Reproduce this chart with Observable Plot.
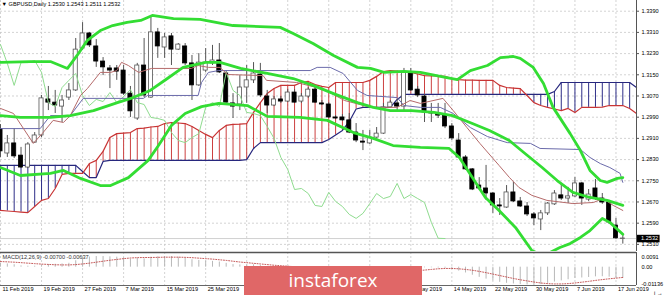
<!DOCTYPE html>
<html><head><meta charset="utf-8">
<script src="https://cdn.jsdelivr.net/npm/d3@7"></script>
<script src="https://cdn.jsdelivr.net/npm/@observablehq/plot@0.6"></script>
<style>
html,body{margin:0;padding:0;background:#fff;}
#chart{position:relative;width:665px;height:297px;overflow:hidden;background:#fff;}
#main{position:absolute;left:0;top:0;}
#macd{position:absolute;left:0;top:251px;}
#logo{position:absolute;left:244px;top:266px;width:178px;height:29px;background:#e06767;color:#fff;font-family:"Open Sans",sans-serif;font-size:19px;line-height:28px;text-align:center;}
</style></head><body>
<div id="chart"><div id="main"></div><div id="macd"></div><div id="logo">instaforex</div></div>
<script>
// ---------- DATA ----------
const symbol = "GBPUSD,Daily";
const dateLabels = ["11 Feb 2019","19 Feb 2019","27 Feb 2019","7 Mar 2019","15 Mar 2019","25 Mar 2019","2 Apr 2019","10 Apr 2019","18 Apr 2019","26 Apr 2019","6 May 2019","14 May 2019","22 May 2019","30 May 2019","7 Jun 2019","17 Jun 2019"];
const labelIdx = [0,6,12,18,24,30,36,42,48,54,60,66,72,78,84,90];
const labelsUnderLogo = [36,42,48,54];
const priceTicks = [1.2510,1.2590,1.2670,1.2750,1.2830,1.2910,1.2990,1.3070,1.3150,1.3230,1.3310,1.3390];
const macdTicks = [0.0091, 0, -0.01136];
const macdTickText = ["0.0091","0.00","-0.01136"];

const open = [1.2944,1.2853,1.2891,1.2845,1.2800,1.2894,1.2921,1.3057,1.3045,1.3030,
1.3064,1.3091,1.3249,1.3306,1.3257,1.3200,1.3174,1.3174,1.3166,1.3079,
1.2985,1.3185,1.3064,1.3310,1.3253,1.3295,1.3245,1.3257,1.3193,1.3110,
1.3166,1.3193,1.3204,1.3155,1.3042,1.3038,1.3102,1.3129,1.3151,1.3068,
1.3034,1.3057,1.3049,1.3083,1.3049,1.3068,1.3094,1.3042,1.3038,1.2989,
1.2989,1.2978,1.2932,1.2898,1.2891,1.2913,1.2928,1.3027,1.3042,1.3030,
1.3159,1.3094,1.3068,1.3008,1.3004,1.2996,1.2955,1.2902,1.2838,1.2793,
1.2732,1.2721,1.2702,1.2657,1.2649,1.2706,1.2672,1.2653,1.2623,1.2604,
1.2627,1.2661,1.2695,1.2683,1.2691,1.2740,1.2679,1.2721,1.2683,1.2668,
1.2581,1.2530];
const high = [1.2962,1.2921,1.2947,1.2876,1.2894,1.2932,1.3072,1.3106,1.3091,1.3072,
1.3117,1.3287,1.3347,1.3310,1.3283,1.3215,1.3185,1.3185,1.3185,1.3106,
1.3193,1.3287,1.3374,1.3325,1.3306,1.3306,1.3268,1.3268,1.3223,1.3230,
1.3249,1.3261,1.3268,1.3166,1.3079,1.3147,1.3185,1.3196,1.3193,1.3091,
1.3068,1.3068,1.3094,1.3094,1.3079,1.3102,1.3102,1.3053,1.3045,1.2996,
1.3000,1.3004,1.2966,1.2940,1.2940,1.2951,1.3042,1.3053,1.3057,1.3174,
1.3174,1.3106,1.3076,1.3042,1.3042,1.3042,1.2966,1.2928,1.2845,1.2796,
1.2762,1.2808,1.2706,1.2683,1.2732,1.2744,1.2687,1.2668,1.2630,1.2638,
1.2668,1.2713,1.2740,1.2725,1.2762,1.2744,1.2717,1.2755,1.2702,1.2676,
1.2608,1.2543];
const low = [1.2838,1.2838,1.2834,1.2796,1.2796,1.2891,1.2913,1.3015,1.3004,1.2970,
1.3053,1.3087,1.3242,1.3253,1.3178,1.3147,1.3098,1.3129,1.3072,1.2989,
1.2978,1.3064,1.3061,1.3212,1.3212,1.3185,1.3242,1.3185,1.3053,1.3106,
1.3159,1.3185,1.3155,1.3042,1.2985,1.3015,1.3042,1.3117,1.3064,1.3004,
1.3030,1.3042,1.3045,1.3042,1.3042,1.3061,1.3042,1.3034,1.2985,1.2981,
1.2974,1.2928,1.2894,1.2864,1.2887,1.2910,1.2925,1.3023,1.3008,1.3015,
1.3087,1.3064,1.2970,1.2970,1.2985,1.2947,1.2902,1.2834,1.2789,1.2713,
1.2713,1.2676,1.2627,1.2619,1.2646,1.2668,1.2649,1.2615,1.2581,1.2562,
1.2619,1.2657,1.2676,1.2664,1.2687,1.2657,1.2672,1.2676,1.2661,1.2585,
1.2528,1.2511];
const close = [1.2861,1.2891,1.2842,1.2800,1.2887,1.2921,1.3061,1.3045,1.3034,1.3053,
1.3091,1.3245,1.3306,1.3261,1.3200,1.3178,1.3166,1.3162,1.3079,1.3012,
1.3185,1.3072,1.3310,1.3257,1.3291,1.3245,1.3264,1.3193,1.3110,1.3196,
1.3196,1.3204,1.3159,1.3045,1.3030,1.3102,1.3129,1.3155,1.3072,1.3034,
1.3057,1.3049,1.3083,1.3045,1.3068,1.3094,1.3045,1.3038,1.2989,1.2985,
1.2978,1.2932,1.2902,1.2894,1.2913,1.2928,1.3027,1.3045,1.3030,1.3159,
1.3091,1.3072,1.3008,1.3004,1.2996,1.2955,1.2910,1.2838,1.2793,1.2717,
1.2721,1.2702,1.2657,1.2653,1.2706,1.2672,1.2653,1.2623,1.2608,1.2627,
1.2664,1.2702,1.2683,1.2691,1.2740,1.2683,1.2698,1.2683,1.2668,1.2593,
1.2533,1.2532];

// Bollinger bands (bar index, price)
const bbUpper = [[0,1.3197],[4.4,1.3200],[7.3,1.3200],[9.8,1.3174],[11.2,1.3223],[12.7,1.3280],[14.6,1.3317],[16.4,1.3336],[18.5,1.3348],[20.5,1.3355],[22.2,1.3374],[25.3,1.3362],[29.2,1.3359],[31.7,1.3347],[34.0,1.3336],[38.0,1.3332],[40.9,1.3329],[42.8,1.3306],[45.7,1.3268],[48.7,1.3223],[52.2,1.3178],[54.1,1.3174],[56.1,1.3159],[59.0,1.3163],[61.4,1.3159],[64.3,1.3144],[66.8,1.3132],[68.7,1.3166],[71.2,1.3185],[73.1,1.3215],[75.0,1.3219],[76.0,1.3212],[77.9,1.3178],[79.4,1.3117],[80.8,1.3027],[83.3,1.2928],[84.8,1.2864],[86.2,1.2789],[87.7,1.2751],[88.7,1.2744],[90.2,1.2759],[91.0,1.2762]];
const bbMiddle = [[0,1.2996],[2.9,1.2989],[7.3,1.2989],[10.2,1.2996],[13.6,1.3015],[17.1,1.3045],[19.4,1.3064],[21.9,1.3091],[24.4,1.3136],[26.7,1.3178],[30.0,1.3197],[32.1,1.3197],[35.1,1.3174],[39.0,1.3155],[42.8,1.3136],[45.7,1.3110],[48.7,1.3079],[52.2,1.3045],[54.5,1.3027],[57.0,1.3015],[60.1,1.3015],[63.4,1.3008],[66.1,1.2996],[69.0,1.2966],[71.5,1.2940],[74.4,1.2902],[76.7,1.2853],[79.2,1.2800],[81.4,1.2751],[83.7,1.2706],[86.2,1.2687],[88.7,1.2676],[91.0,1.2657]];
const bbLower = [[0,1.2800],[2.9,1.2770],[7.3,1.2778],[9.2,1.2789],[11.7,1.2759],[14.6,1.2732],[16.1,1.2732],[18.7,1.2762],[21.6,1.2827],[23.1,1.2883],[25.0,1.2959],[27.0,1.3004],[29.4,1.3030],[31.9,1.3042],[36.1,1.3034],[39.0,1.2993],[43.8,1.2989],[47.8,1.2978],[51.6,1.2932],[54.5,1.2910],[57.4,1.2883],[61.4,1.2876],[65.6,1.2872],[67.1,1.2838],[69.0,1.2762],[70.9,1.2687],[72.9,1.2638],[75.3,1.2574],[77.7,1.2487],[78.9,1.2472],[80.4,1.2480],[81.8,1.2498],[83.3,1.2513],[84.8,1.2536],[86.2,1.2562],[88.0,1.2608],[89.1,1.2593],[91.0,1.2548]];

// Ichimoku
const tenkan = [[0,1.3023],[1.9,1.3004],[4.8,1.2891],[6.1,1.2928],[7.7,1.2978],[9.2,1.2970],[10.2,1.2996],[11.7,1.3072],[12.7,1.3098],[14.6,1.3159],[16.1,1.3159],[17.0,1.3166],[17.7,1.3197],[18.7,1.3185],[20.2,1.3159],[22.1,1.3174],[27.9,1.3174],[28.9,1.3185],[30.4,1.3178],[32.1,1.3178],[33.2,1.3151],[38.4,1.3147],[38.9,1.3129],[43.3,1.3121],[46.2,1.3102],[47.6,1.3091],[50.3,1.3053],[54.2,1.3027],[58.0,1.3027],[59.9,1.3053],[61.4,1.3042],[64.7,1.3061],[66.2,1.3015],[68.2,1.2951],[70.1,1.2891],[72.9,1.2808],[74.4,1.2763],[75.8,1.2725],[77.7,1.2695],[79.9,1.2676],[83.7,1.2664],[86.7,1.2668],[88.1,1.2683],[89.6,1.2657],[91.0,1.2638]];
const kijun = [[0,1.2947],[5.8,1.2947],[7.3,1.2996],[10.2,1.2996],[12.1,1.3061],[20.9,1.3061],[21.5,1.3072],[28.9,1.3072],[29.4,1.3121],[30.4,1.3159],[31.9,1.3166],[45.3,1.3166],[46.3,1.3178],[48.2,1.3178],[50.1,1.3155],[52.2,1.3091],[53.6,1.3072],[58.0,1.3064],[59.0,1.3034],[61.4,1.3027],[64.3,1.3027],[66.2,1.3004],[68.7,1.2951],[71.2,1.2917],[74.1,1.2894],[77.5,1.2891],[78.9,1.2872],[84.8,1.2868],[86.2,1.2838],[87.7,1.2815],[89.1,1.2800],[90.6,1.2778],[91.0,1.2744]];
const spanA = [1.2638,1.2636,1.2634,1.2632,1.2630,1.2653,1.2676,1.2683,1.2721,1.2774,
1.2778,1.2778,1.2778,1.2815,1.2827,1.2861,1.2913,1.2928,1.2930,1.2932,
1.2947,1.2949,1.2953,1.2955,1.2966,1.2970,1.2968,1.2966,1.2955,1.2940,
1.2925,1.2913,1.2940,1.2959,1.2963,1.2964,1.2966,1.3008,1.3045,1.3079,
1.3098,1.3110,1.3110,1.3110,1.3121,1.3125,1.3113,1.3106,1.3102,1.3121,
1.3121,1.3121,1.3121,1.3121,1.3129,1.3144,1.3162,1.3166,1.3164,1.3162,
1.3159,1.3153,1.3147,1.3146,1.3146,1.3144,1.3136,1.3132,1.3130,1.3130,
1.3129,1.3129,1.3129,1.3110,1.3102,1.3100,1.3098,1.3072,1.3045,1.3034,
1.3027,1.3021,1.3015,1.3023,1.3008,1.3027,1.3027,1.3027,1.3028,1.3034,
1.3034,1.3034,1.3023,1.3004];
const spanB = [1.2808,1.2808,1.2808,1.2808,1.2808,1.2808,1.2808,1.2808,1.2808,1.2808,
1.2808,1.2808,1.2785,1.2762,1.2762,1.2823,1.2827,1.2827,1.2827,1.2827,
1.2827,1.2827,1.2827,1.2827,1.2827,1.2827,1.2827,1.2827,1.2827,1.2827,
1.2827,1.2827,1.2827,1.2827,1.2827,1.2827,1.2830,1.2872,1.2894,1.2894,
1.2894,1.2894,1.2894,1.2894,1.2894,1.2894,1.2894,1.2894,1.2906,1.2923,
1.2940,1.2974,1.3021,1.3027,1.3027,1.3027,1.3027,1.3027,1.3057,1.3076,
1.3076,1.3076,1.3076,1.3076,1.3076,1.3076,1.3076,1.3076,1.3076,1.3076,
1.3076,1.3076,1.3076,1.3076,1.3076,1.3076,1.3076,1.3076,1.3076,1.3076,
1.3076,1.3087,1.3121,1.3121,1.3121,1.3121,1.3121,1.3121,1.3121,1.3121,
1.3121,1.3121,1.3121,1.3102];
const chikouShift = 26;

// MACD(12,26,9)
const macdMain = [0.0025,0.0020,0.0015,0.0008,0.0006,0.0006,0.0012,0.0016,0.0018,0.0020,
0.0024,0.0040,0.0055,0.0063,0.0066,0.0066,0.0064,0.0062,0.0058,0.0050,
0.0055,0.0052,0.0062,0.0064,0.0066,0.0066,0.0062,0.0056,0.0046,0.0042,
0.0038,0.0036,0.0032,0.0024,0.0016,0.0014,0.0014,0.0015,0.0010,0.0004,
0.0000,-0.0002,-0.0003,-0.0006,-0.0006,-0.0005,-0.0008,-0.0010,-0.0015,-0.0018,
-0.0021,-0.0026,-0.0032,-0.0037,-0.0038,-0.0037,-0.0028,-0.0020,-0.0015,-0.0005,
-0.0003,-0.0003,-0.0004,-0.0004,-0.0005,-0.0007,-0.0012,-0.0024,-0.0036,-0.0050,
-0.0063,-0.0074,-0.0085,-0.0094,-0.0100,-0.0104,-0.0108,-0.0110,-0.0111,-0.0108,
-0.0100,-0.0092,-0.0085,-0.0078,-0.0070,-0.0067,-0.0064,-0.0060,-0.0059,-0.0062,
-0.0068,-0.0070];
const macdSignal = [0.0035,0.0033,0.0031,0.0028,0.0025,0.0022,0.0019,0.0017,0.0015,0.0014,0.0014,
0.0016,0.0020,0.0025,0.0031,0.0037,0.0043,0.0048,0.0053,0.0057,0.0059,
0.0060,0.0060,0.0061,0.0062,0.0062,0.0062,0.0061,0.0059,0.0056,0.0053,
0.0050,0.0046,0.0042,0.0037,0.0032,0.0028,0.0024,0.0020,0.0016,0.0012,
0.0009,0.0006,0.0003,0.0001,-0.0001,-0.0003,-0.0004,-0.0006,-0.0008,-0.0011,
-0.0014,-0.0018,-0.0021,-0.0024,-0.0027,-0.0029,-0.0029,-0.0028,-0.0026,-0.0024,
-0.0022,-0.0018,-0.0014,-0.0010,-0.0008,-0.0008,-0.0010,-0.0014,-0.0019,-0.0026,
-0.0034,-0.0043,-0.0052,-0.0061,-0.0070,-0.0078,-0.0085,-0.0092,-0.0098,-0.0102,
-0.0104,-0.0104,-0.0102,-0.0098,-0.0093,-0.0088,-0.0082,-0.0077,-0.0072,-0.0068,-0.00637];

// ---------- SCALES / STYLE ----------
const xMax = 93;
const priceMin = 1.24831, priceMax = 1.34304;
const macdMin = -0.01136, macdMax = 0.0091;
const FONT = "Liberation Sans, Arial, sans-serif";
const FS = 5.6;
const grid = {stroke: "#c8c8c8", strokeDasharray: "2,2", strokeWidth: 0.8};
const green = "#33dd33", red = "#c83434", navy = "#27277d";

const N = close.length;
const candles = close.map((c, i) => ({i, o: open[i], h: high[i], l: low[i], c}));
const cloud = spanA.map((a, i) => ({i, a, b: spanB[i]}));
const chikou = close.map((c, i) => ({i: i - chikouShift, c})).filter(d => d.i >= 0);
const macdData = macdMain.map((m, i) => ({i, m, s: macdSignal[i]}));
const last = candles[N - 1];
const header = "\u25BC " + symbol + " " + [last.o, last.h, last.l, last.c].map(v => v.toFixed(4)).join(" ");
const macdLabel = "MACD(12,26,9) " + macdMain[N - 1].toFixed(5) + " " + macdSignal[N - 1].toFixed(5);
const dateOf = new Map(labelIdx.map((d, k) => [d, dateLabels[k]]));
const shownLabelIdx = labelIdx.filter(d => !labelsUnderLogo.includes(d));
const pt = d => d[0], pv = d => d[1];

const mainPlot = Plot.plot({
  width: 665, height: 251, marginLeft: 0, marginRight: 29, marginTop: 0, marginBottom: 0,
  style: {fontFamily: FONT, fontSize: FS + "px", background: "transparent"},
  x: {domain: [0, xMax], axis: null},
  y: {domain: [priceMin, priceMax], axis: null},
  color: {type: "identity"},
  marks: [
    Plot.ruleY(priceTicks, grid),
    Plot.ruleX(labelIdx, grid),
    Plot.ruleY([last.c], {stroke: "#c4c4c4", strokeWidth: 0.8}),
    Plot.ruleX(cloud, {x: "i", y1: "a", y2: "b", stroke: d => d.a >= d.b ? "#cc4040" : "#2e2e88", strokeWidth: 1}),
    Plot.line(cloud, {x: "i", y: "b", stroke: navy, strokeWidth: 1.2}),
    Plot.line(cloud, {x: "i", y: "a", stroke: red, strokeWidth: 1.2}),
    Plot.ruleX(candles, {x: "i", y1: "l", y2: "h", stroke: "#555", strokeWidth: 1}),
    Plot.rect(candles, {x1: d => d.i - 0.3, x2: d => d.i + 0.3, y1: d => Math.min(d.o, d.c), y2: d => Math.max(d.o, d.c),
      fill: d => d.c >= d.o ? "#fff" : "#000", stroke: d => d.c >= d.o ? "#555" : "#000", strokeWidth: 0.8}),
    Plot.line(chikou, {x: "i", y: "c", stroke: "#8fdc8f", strokeWidth: 1}),
    Plot.line(kijun, {x: pt, y: pv, stroke: "#6b6bab", strokeWidth: 1}),
    Plot.line(tenkan, {x: pt, y: pv, stroke: "#b56a6a", strokeWidth: 1}),
    Plot.line(bbUpper, {x: pt, y: pv, stroke: green, strokeWidth: 2.8, clip: true}),
    Plot.line(bbMiddle, {x: pt, y: pv, stroke: green, strokeWidth: 2.8, clip: true}),
    Plot.line(bbLower, {x: pt, y: pv, stroke: green, strokeWidth: 2.8, clip: true}),
    Plot.ruleX([xMax], {stroke: "#555", strokeWidth: 1}),
    Plot.axisY({anchor: "right", ticks: priceTicks, tickFormat: d3.format(".4f"), tickSize: 2, tickPadding: 3, fontSize: FS, fill: "#000", stroke: "#555"}),
    Plot.ruleY([last.c], {x1: xMax + 0.15, x2: xMax + 3.45, stroke: "#000", strokeWidth: 7.5}),
    Plot.text([last.c], {x: xMax, y: d => d, text: d => d.toFixed(4), dx: 4.5, textAnchor: "start", fill: "#fff", fontSize: FS}),
    Plot.text([header], {text: d => d, frameAnchor: "top-left", dx: 1, dy: 1.5, textAnchor: "start", fill: "#000", fontSize: FS})
  ]
});
document.getElementById("main").appendChild(mainPlot);

const macdPlot = Plot.plot({
  width: 665, height: 46, marginLeft: 0, marginRight: 29, marginTop: 1, marginBottom: 12,
  style: {fontFamily: FONT, fontSize: FS + "px", background: "transparent"},
  x: {domain: [0, xMax], axis: null},
  y: {domain: [macdMin, macdMax], axis: null},
  marks: [
    Plot.ruleX(labelIdx, grid),
    Plot.ruleX(macdData, {x: "i", y1: 0, y2: "m", stroke: "#b8b8b8", strokeWidth: 1}),
    Plot.line(macdData, {x: "i", y: "s", stroke: "#c04848", strokeWidth: 0.9, strokeDasharray: "1,1.6"}),
    Plot.ruleY([macdMax], {stroke: "#555", strokeWidth: 1.6}),
    Plot.ruleY([macdMin], {stroke: "#666", strokeWidth: 1}),
    Plot.ruleX([xMax], {stroke: "#555", strokeWidth: 1}),
    Plot.text([macdLabel], {text: d => d, frameAnchor: "top-left", dx: 2, dy: 3, textAnchor: "start", fill: "#333", fontSize: FS}),
    Plot.axisY([macdTicks[0]], {anchor: "right", tickFormat: () => macdTickText[0], tickSize: 0, tickPadding: 5, dy: 5, fontSize: FS, fill: "#000"}),
    Plot.axisY([macdTicks[1]], {anchor: "right", tickFormat: () => macdTickText[1], tickSize: 0, tickPadding: 5, dy: 0.5, fontSize: FS, fill: "#000"}),
    Plot.axisY([macdTicks[2]], {anchor: "right", tickFormat: () => macdTickText[2], tickSize: 0, tickPadding: 5, dy: -1.5, fontSize: FS, fill: "#000"}),
    Plot.axisX(shownLabelIdx, {anchor: "bottom", tickFormat: d => dateOf.get(d), tickSize: 0, tickPadding: 2, textAnchor: "start", dx: 2, fontSize: FS, fill: "#000"})
  ]
});
document.getElementById("macd").appendChild(macdPlot);
</script>
</body></html>
